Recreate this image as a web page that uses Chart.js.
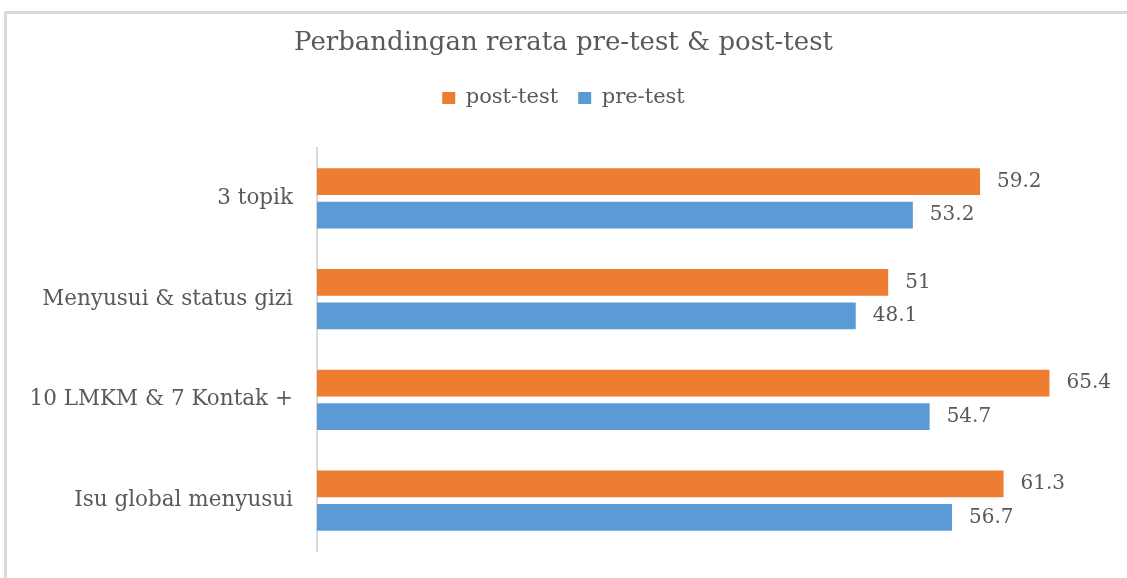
<!DOCTYPE html>
<html>
<head>
<meta charset="utf-8">
<script src="https://cdn.jsdelivr.net/npm/chart.js@4"></script>
<style>
  body { margin: 0; background: #fff; }
  #frame {
    position: absolute; left: 4px; top: 11px; width: 1123px; height: 567px;
    border-top: 3px solid #d9d9d9; border-left: 3px solid #d9d9d9;
  }
  #wrap { position: absolute; left: 0; top: 0; width: 1127px; height: 578px; }
</style>
</head>
<body>
<div id="frame"></div>
<div id="wrap"><canvas id="myChart"></canvas></div>
<script>
const categories = ['3 topik', 'Menyusui & status gizi', '10 LMKM & 7 Kontak +', 'Isu global menyusui']
const postTest = [59.2, 51, 65.4, 61.3]
const preTest = [53.2, 48.1, 54.7, 56.7]

const textGray = '#595959'
const serif = "'DejaVu Serif', serif"

// value labels to the right of every bar
const valueLabels = {
  id: 'valueLabels',
  afterDatasetsDraw(chart) {
    const ctx = chart.ctx
    ctx.save()
    ctx.font = "20px " + serif
    ctx.fillStyle = textGray
    ctx.textAlign = 'left'
    ctx.textBaseline = 'middle'
    chart.data.datasets.forEach((ds, i) => {
      chart.getDatasetMeta(i).data.forEach((bar, j) => {
        ctx.fillText(String(ds.data[j]), bar.x + 17, bar.y)
      })
    })
    ctx.restore()
  }
}

var ctx = document.getElementById('myChart').getContext('2d')
const myChart = new Chart(ctx, {
  type: 'bar',
  data: {
    labels: categories,
    datasets: [{
      label: 'post-test',
      data: postTest,
      backgroundColor: '#ED7D31',
      barPercentage: 0.8,
      categoryPercentage: 0.666
    }, {
      label: 'pre-test',
      data: preTest,
      backgroundColor: '#5B9BD5',
      barPercentage: 0.8,
      categoryPercentage: 0.666
    }]
  },
  options: {
    indexAxis: 'y',
    responsive: true,
    maintainAspectRatio: false,
    animation: false,
    layout: { padding: { top: 20, right: 26, bottom: 27, left: 26 } },
    plugins: {
      title: {
        display: true,
        text: 'Perbandingan rerata pre-test & post-test',
        color: textGray,
        font: { family: serif, size: 26, weight: 'normal' },
        padding: { top: 8, bottom: 8.3 }
      },
      legend: {
        position: 'top',
        labels: {
          color: textGray,
          font: { family: serif, size: 21 },
          boxWidth: 13,
          boxHeight: 12,
          padding: 20
        }
      },
      tooltip: { enabled: false }
    },
    scales: {
      // hidden axis on top, used only as a gap below the legend
      x: {
        position: 'top',
        min: 0,
        max: 70,
        grid: { display: false, drawTicks: false },
        border: { display: false },
        ticks: { display: false },
        afterFit(scale) { scale.height = 29.5 }
      },
      y: {
        grid: { display: false, drawTicks: true, tickLength: 24 },
        border: { display: true, color: '#d9d9d9', width: 2 },
        ticks: {
          color: textGray,
          font: { family: serif, size: 21.5 },
          padding: 0
        },
        afterFit(scale) { scale.width = 291 }
      }
    }
  },
  plugins: [valueLabels]
})
</script>
</body>
</html>
